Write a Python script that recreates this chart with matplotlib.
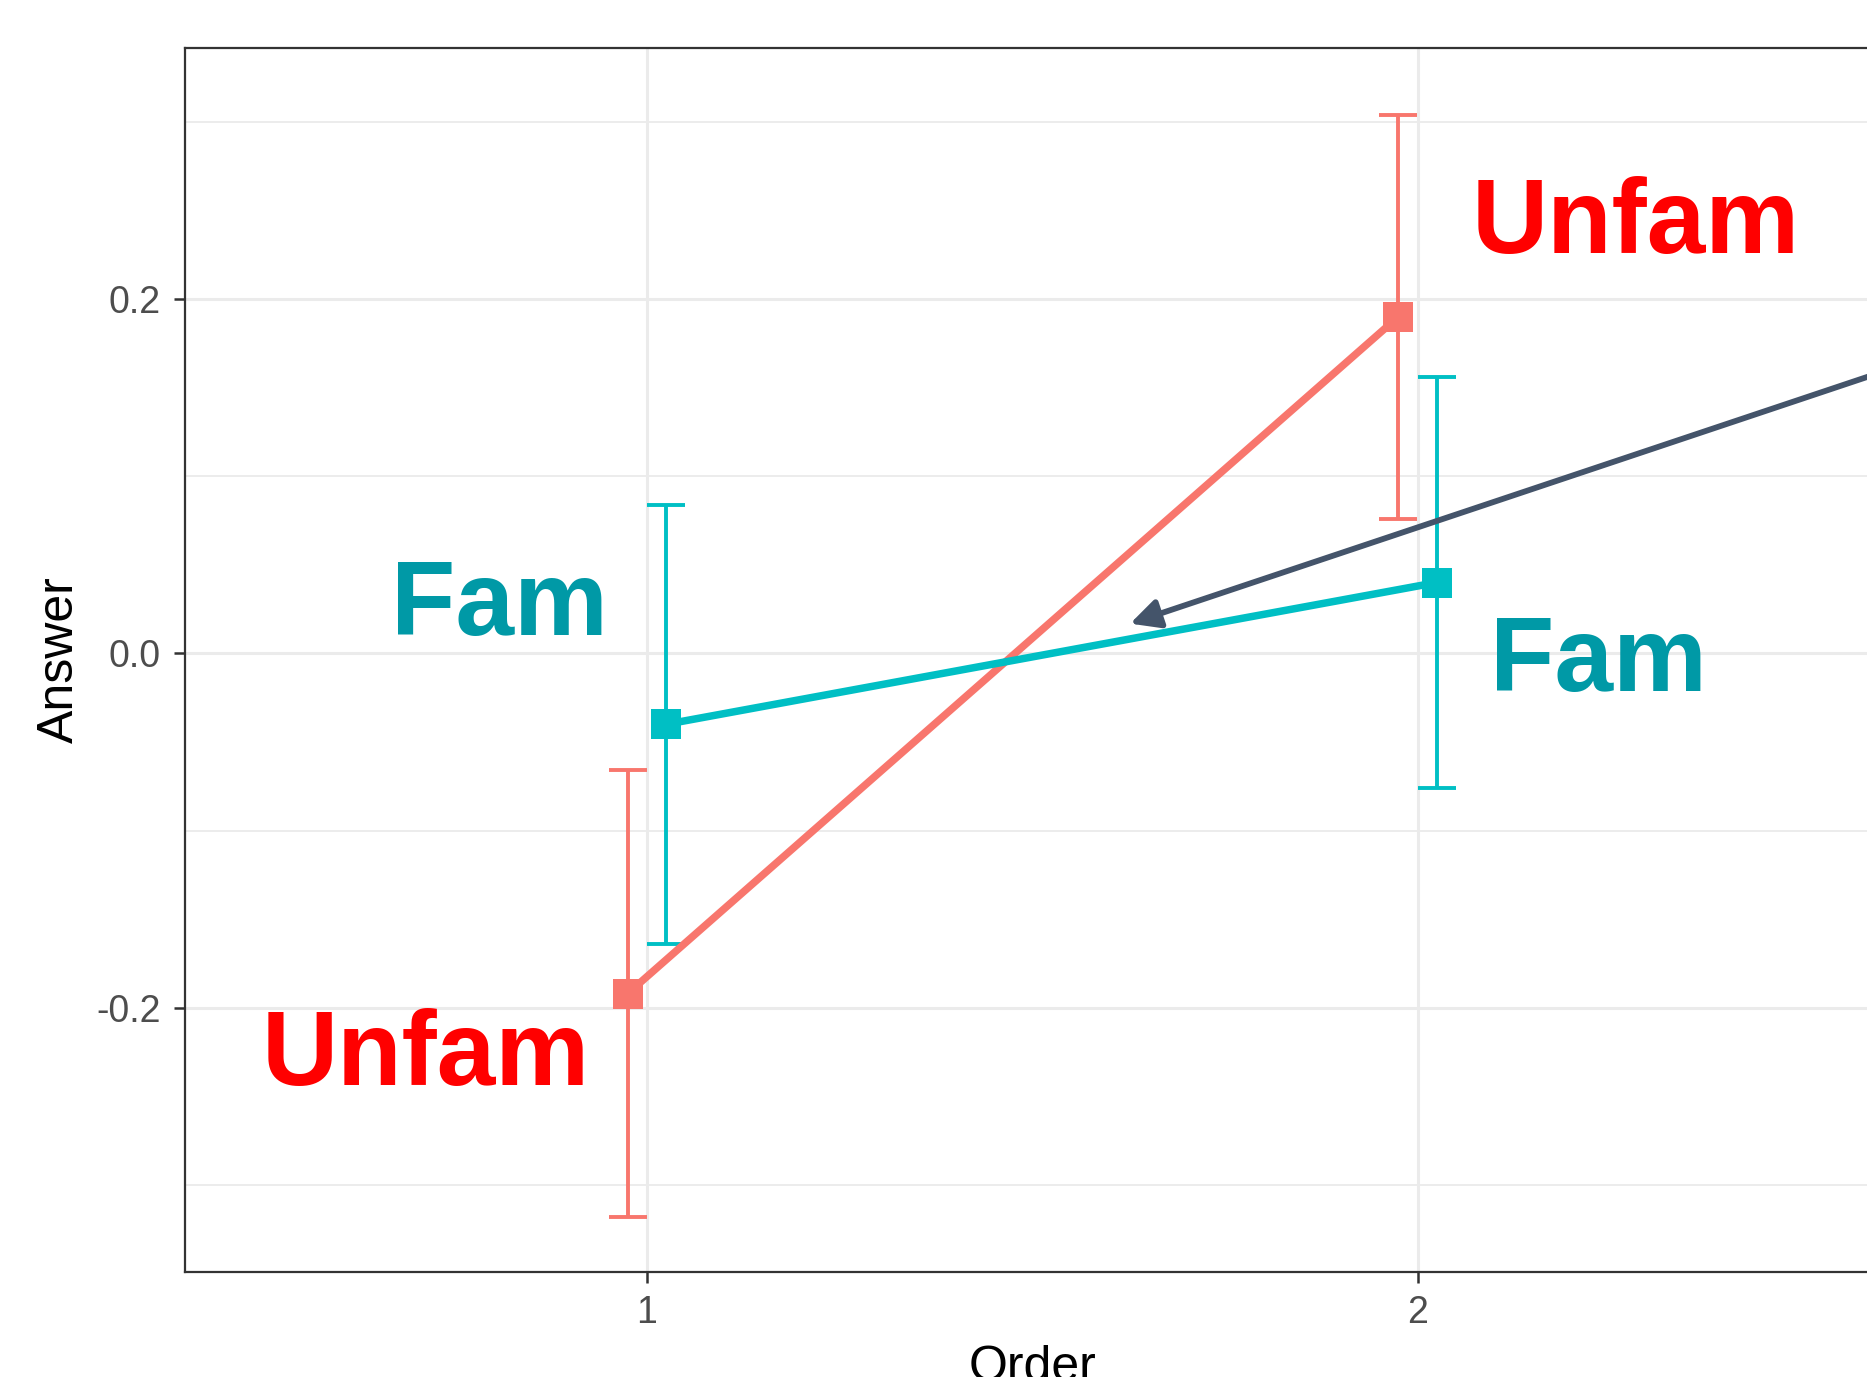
import matplotlib
matplotlib.use("Agg")
import matplotlib.pyplot as plt

plt.rcParams['font.family'] = ['Liberation Sans', 'DejaVu Sans']

# data
order = [1, 2]
dodge = 0.025
unfam_mean = [-0.192, 0.190]
unfam_err = [0.126, 0.114]
fam_mean = [-0.040, 0.040]
fam_err = [0.124, 0.116]

yticks = [-0.2, 0.0, 0.2]
yticklabels = ['-0.2', '0.0', '0.2']
yminor = [-0.3, -0.1, 0.1, 0.3]

unfam_col = '#F8766D'
fam_col = '#00BFC4'

fig = plt.figure(figsize=(18.67, 13.77), dpi=100)
ax = fig.add_axes([0.0989, 0.0765, 0.908, 0.889])

# grid like theme_bw
ax.set_axisbelow(True)
ax.set_yticks(yminor, minor=True)
ax.grid(True, which='major', color='#EBEBEB', lw=2.2)
ax.grid(True, which='minor', axis='y', color='#EBEBEB', lw=1.3)

for means, errs, col, shift in [(unfam_mean, unfam_err, unfam_col, -dodge),
                                (fam_mean, fam_err, fam_col, dodge)]:
    xs = [o + shift for o in order]
    ax.errorbar(xs, means, yerr=errs, fmt='none', ecolor=col, elinewidth=2.8,
                capsize=13.8, capthick=2.8, zorder=3)
    ax.plot(xs, means, color=col, lw=5.4, marker='s', ms=22, mew=0, zorder=4)

ax.set_xlim(0.4, 2.6)
ax.set_ylim(-0.349, 0.342)
ax.set_xticks(order)
ax.set_xticklabels([str(o) for o in order])
ax.set_yticks(yticks)
ax.set_yticklabels(yticklabels)
ax.tick_params(axis='both', which='major', labelsize=27, labelcolor='#4D4D4D',
               color='#333333', length=8, width=1.8, pad=9)
ax.tick_params(axis='y', which='minor', length=0)

for side in ['left', 'bottom', 'top', 'right']:
    ax.spines[side].set_color('#333333')
    ax.spines[side].set_linewidth(1.6)

ax.set_xlabel('Order', fontsize=36, color='black')
ax.set_ylabel('Answer', fontsize=36, color='black')
ax.xaxis.set_label_coords(0.5, -0.06)
ax.yaxis.set_label_coords(-0.06, 0.5)

# overlaid group labels
lab_font = dict(fontsize=76, fontweight='bold', ha='left', va='baseline', zorder=6)
ax.text(2.07, 0.226, 'Unfam', color='#FF0000', **lab_font)
ax.text(0.5, -0.2434, 'Unfam', color='#FF0000', **lab_font)
ax.text(0.668, 0.0101, 'Fam', color='#0099A6', **lab_font)
ax.text(2.094, -0.0215, 'Fam', color='#0099A6', **lab_font)

# arrow coming in from the right edge
arrow_tip = (1.627, 0.0168)
arrow_tail = (2.7, 0.173)
ax.annotate('', xy=arrow_tip, xytext=arrow_tail, annotation_clip=False,
            arrowprops=dict(arrowstyle='-|>,head_length=0.8,head_width=0.4',
                            mutation_scale=22, color='#44546A', lw=4.2,
                            shrinkA=0, shrinkB=0),
            zorder=7)

fig.savefig('out.png', dpi=100)
